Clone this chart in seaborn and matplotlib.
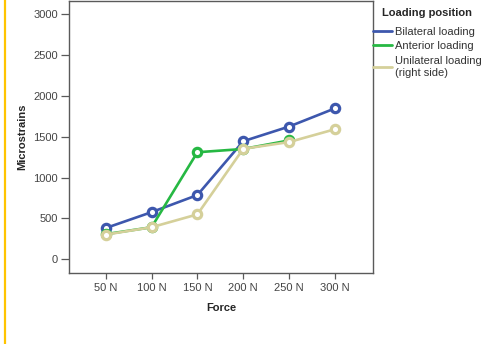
import numpy as np
import pandas as pd
import matplotlib
matplotlib.use("Agg")
import matplotlib.pyplot as plt
from matplotlib.lines import Line2D
import seaborn as sns

# ============================================================
# Data
# ============================================================
forces = ["50 N", "100 N", "150 N", "200 N", "250 N", "300 N"]
bilateral = [380, 575, 785, 1445, 1625, 1848]
anterior = [305, 390, 1310, 1350, 1455, np.nan]
unilateral = [300, 390, 548, 1352, 1435, 1592]

groups = ["Bilateral loading", "Anterior loading", "Unilateral loading\n(right side)"]
colors = ["#3d57ad", "#26b843", "#d5d09a"]

df = pd.DataFrame({
    "Force": forces * 3,
    "Microstrains": bilateral + anterior + unilateral,
    "Loading position": np.repeat(groups, len(forces)),
})

# ============================================================
# Plot
# ============================================================
sns.set_style("white")
plt.rcParams["font.family"] = ["Liberation Sans", "DejaVu Sans"]

fig = plt.figure(figsize=(4.89, 3.44), dpi=100)
ax = fig.add_axes([69 / 489, 71 / 344, 304 / 489, 272.5 / 344])

sns.lineplot(data=df, x="Force", y="Microstrains", hue="Loading position",
             hue_order=groups, palette=colors, marker="o", markersize=6,
             markerfacecolor="white", markeredgewidth=2.3, linewidth=1.9,
             sort=False, legend=False, ax=ax)
for line in ax.lines:
    line.set_markeredgecolor(line.get_color())

ax.set_xlim(-0.8, 5.83)
ax.set_ylim(-171, 3171)
ax.set_yticks(range(0, 3001, 500))

for sp in ax.spines.values():
    sp.set_color("#5a5a5a")
    sp.set_linewidth(1.0)

ax.tick_params(axis="y", left=True, length=6, width=0.9, color="#5a5a5a",
               labelsize=8, labelcolor="#444444", pad=2)
ax.tick_params(axis="x", bottom=True, length=4.5, width=0.9, color="#5a5a5a",
               labelsize=8, labelcolor="#444444", pad=3)

ax.set_xlabel("Force", fontsize=8, fontweight="bold", labelpad=7)
ax.set_ylabel("Microstrains", fontsize=8, fontweight="bold", labelpad=4)

handles = [Line2D([], [], color=c, lw=2) for c in colors]
leg = ax.legend(handles, groups, title="Loading position", loc="upper left",
                bbox_to_anchor=(1.0, 0.974), frameon=False, fontsize=8,
                title_fontproperties={"weight": "bold", "size": 8},
                borderaxespad=0, borderpad=0, handlelength=1.75,
                handletextpad=0.25, labelspacing=0.42)
leg._legend_box.sep = 6.5
for t in leg.get_texts():
    t.set_color("#333333")

# yellow frame edge on the left
fig.add_artist(Line2D([4.5 / 489, 4.5 / 489], [0, 1], color="#ffc400", lw=1.6,
                      transform=fig.transFigure))

fig.savefig("out.png", dpi=100)
